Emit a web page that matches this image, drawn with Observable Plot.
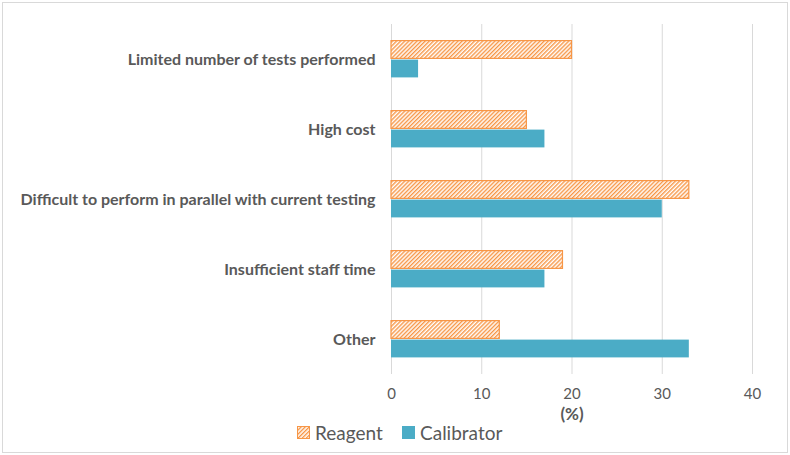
<!DOCTYPE html>
<html>
<head>
<meta charset="utf-8">
<script src="https://cdn.jsdelivr.net/npm/d3@7"></script>
<script src="https://cdn.jsdelivr.net/npm/@observablehq/plot@0.6"></script>
<style>
  html, body { margin: 0; padding: 0; background: #fff; }
  #frame { position: absolute; left: 2px; top: 2px; width: 786px; height: 451px; box-sizing: border-box; border: 1px solid #d9d9d9; background: #fff; font-family: Lato, "Open Sans", sans-serif; overflow: hidden; }
  #chart { position: absolute; left: 0; top: 0; }
  #chart svg { display: block; }
  #legend { position: absolute; left: 0; top: 414px; width: 100%; height: 30px; font-size: 19px; color: #595959; font-family: Lato, sans-serif; }
  #legend .item { position: absolute; top: 0; display: flex; align-items: center; height: 30px; }
  #legend svg { margin-right: 5px; }
</style>
</head>
<body>
<div id="frame">
  <div id="chart"></div>
  <div id="legend"></div>
</div>
<script>
const categories = [
  "Limited number of tests performed",
  "High cost",
  "Difficult to perform in parallel with current testing",
  "Insufficient staff time",
  "Other"
];
const series = ["Reagent", "Calibrator"];
const reagentValues = [20, 15, 33, 19, 12];
const calibratorValues = [3, 17, 30, 17, 33];
const xTicks = [0, 10, 20, 30, 40];

const data = [];
categories.forEach((c, i) => {
  data.push({category: c, series: "Reagent", value: reagentValues[i]});
  data.push({category: c, series: "Calibrator", value: calibratorValues[i]});
});

const orange = "#f79646";
const blue = "#4bacc6";
const hatchDef = id => `<pattern id="${id}" patternUnits="userSpaceOnUse" width="2.9" height="2.9" patternTransform="rotate(45)">
     <rect width="2.9" height="2.9" fill="#fff"/>
     <line x1="0.7" y1="0" x2="0.7" y2="2.9" stroke="${orange}" stroke-width="1.4"/>
   </pattern>`;

const plot = Plot.plot({
  width: 784,
  height: 430,
  marginLeft: 388,
  marginRight: 35,
  marginTop: 21,
  marginBottom: 59,
  style: {fontFamily: "Lato, sans-serif", color: "#595959", background: "transparent"},
  x: {domain: [0, 40], ticks: xTicks, grid: false},
  fy: {domain: categories, padding: 0, label: null},
  y: {domain: series, paddingInner: 0, paddingOuter: 0.842, axis: null},
  marks: [
    Plot.gridX(xTicks, {stroke: "#d9d9d9", strokeOpacity: 1, strokeWidth: 1}),
    Plot.barX(data, {
      fy: "category",
      y: "series",
      x: "value",
      fill: d => d.series === "Reagent" ? "url(#hatch)" : blue,
      stroke: d => d.series === "Reagent" ? orange : "none",
      strokeWidth: 1.2,
      inset: 0,
      insetTop: 0.6,
      insetBottom: 0.6
    }),
    Plot.axisX(xTicks, {
      tickSize: 0,
      tickPadding: 14,
      fontSize: 15,
      fill: "#595959",
      label: "(%)",
      labelAnchor: "center",
      labelArrow: "none",
      labelOffset: 45
    }),
    Plot.axisFy({
      anchor: "left",
      tickSize: 0,
      tickPadding: 16,
      fontSize: 16,
      fontWeight: "bold",
      fill: "#595959",
      label: null
    })
  ]
});

d3.select(plot).insert("defs", ":first-child").html(hatchDef("hatch"));
d3.select(plot).selectAll("g[aria-label='x-axis label'] text").attr("font-weight", "bold").attr("font-size", 17);
document.getElementById("chart").appendChild(plot);

const legend = d3.select("#legend");
const legendLeft = {Reagent: 294, Calibrator: 399};
series.forEach(s => {
  const item = legend.append("div").attr("class", "item").style("left", legendLeft[s] + "px");
  const sw = item.append("svg").attr("width", 13).attr("height", 13);
  if (s === "Reagent") {
    sw.append("defs").html(hatchDef("hatchL"));
    sw.append("rect").attr("x", 0.5).attr("y", 0.5).attr("width", 12).attr("height", 12).attr("fill", "url(#hatchL)").attr("stroke", orange);
  } else {
    sw.append("rect").attr("width", 13).attr("height", 13).attr("fill", blue);
  }
  item.append("span").text(s);
});
</script>
</body>
</html>
